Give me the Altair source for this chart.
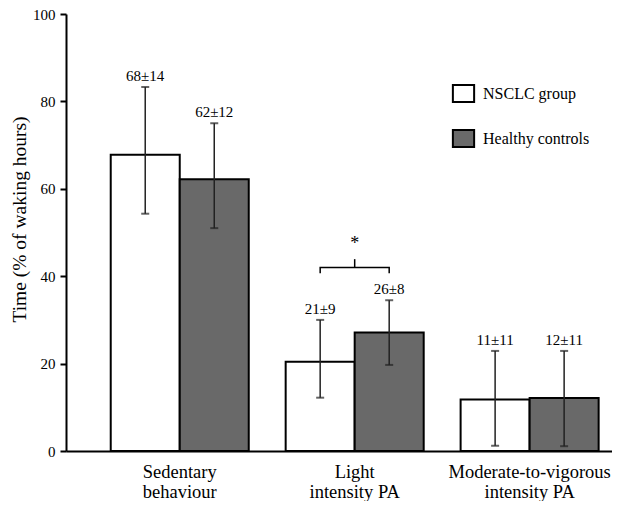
import altair as alt
import pandas as pd

# ---- data ----
categories = ["Sedentary|behaviour", "Light|intensity PA", "Moderate-to-vigorous|intensity PA"]
groups = ["NSCLC group", "Healthy controls"]
nsclc_mean = [67.8, 20.4, 11.8]
healthy_mean = [62.2, 27.1, 12.1]
nsclc_hi = [83.3, 30.0, 22.9]
healthy_hi = [75.0, 34.5, 22.9]
nsclc_lo = [54.3, 12.2, 1.2]
healthy_lo = [51.0, 19.7, 1.1]
nsclc_label = ["68±14", "21±9", "11±11"]
healthy_label = ["62±12", "26±8", "12±11"]

# significance bracket (Light intensity PA)
bracket_cat = "Light|intensity PA"
bracket_low = 40.7
bracket_high = 42.0
bracket_tip = 43.9
star_y = 46.3

FONT = "Liberation Serif, Times New Roman, serif"

rows = []
for i, c in enumerate(categories):
    rows.append(dict(cat=c, group=groups[0], mean=nsclc_mean[i], lo=nsclc_lo[i], hi=nsclc_hi[i], label=nsclc_label[i]))
    rows.append(dict(cat=c, group=groups[1], mean=healthy_mean[i], lo=healthy_lo[i], hi=healthy_hi[i], label=healthy_label[i]))
df = pd.DataFrame(rows)

bracket_df = pd.DataFrame([
    dict(cat=bracket_cat, group=groups[0], y=bracket_low, o=0),
    dict(cat=bracket_cat, group=groups[0], y=bracket_high, o=1),
    dict(cat=bracket_cat, group=groups[1], y=bracket_high, o=2),
    dict(cat=bracket_cat, group=groups[1], y=bracket_low, o=3),
])
tip_df = pd.DataFrame([dict(cat=bracket_cat, y=bracket_high, y2=bracket_tip, star="*", sy=star_y)])

xscale = alt.Scale(domain=categories, paddingInner=0.211, paddingOuter=0.166, align=0.77)
x = alt.X("cat:N", scale=xscale, sort=categories,
          axis=alt.Axis(title=None, ticks=False, labelAngle=0, labelExpr="split(datum.label, '|')",
                        labelFont=FONT, labelFontSize=18.5, labelColor="black", labelLineHeight=20,
                        labelPadding=11, domainColor="black", domainWidth=2, labelBaseline="top"))
xo = alt.XOffset("group:N", scale=alt.Scale(domain=groups, paddingInner=0, paddingOuter=0), sort=groups)
yscale = alt.Scale(domain=[0, 100], nice=False)

bars = alt.Chart(df).mark_bar(stroke="black", strokeWidth=2).encode(
    x=x, xOffset=xo,
    y=alt.Y("mean:Q", scale=yscale,
            axis=alt.Axis(title="Time (% of waking hours)", values=[0, 20, 40, 60, 80, 100], grid=False,
                          tickSize=6, tickWidth=2, tickColor="black", domainColor="black", domainWidth=2,
                          labelFont=FONT, labelFontSize=15, labelColor="black", labelPadding=5,
                          titleFont=FONT, titleFontSize=19.5, titleFontWeight="normal", titleColor="black",
                          titleX=-47, titleY=205, titleBaseline="middle", titleAngle=-90)),
    color=alt.Color("group:N", sort=groups,
                    scale=alt.Scale(domain=groups, range=["white", "#696969"]),
                    legend=alt.Legend(title=None, orient="none", legendX=388, legendY=70,
                                      symbolType="M-1.25,-1H1.25V1H-1.25Z", symbolSize=289,
                                      symbolStrokeColor="black", symbolStrokeWidth=2,
                                      labelFont=FONT, labelFontSize=16, labelColor="black",
                                      labelOffset=10, rowPadding=20, padding=0)),
)

rules = alt.Chart(df).mark_rule(color="#222222", strokeWidth=1.5).encode(
    x=x, xOffset=xo, y=alt.Y("lo:Q", scale=yscale), y2="hi:Q")
cap_hi = alt.Chart(df).mark_tick(color="#222222", orient="horizontal", size=8, thickness=2).encode(
    x=x, xOffset=xo, y=alt.Y("hi:Q", scale=yscale))
cap_lo = alt.Chart(df).mark_tick(color="#222222", orient="horizontal", size=8, thickness=2).encode(
    x=x, xOffset=xo, y=alt.Y("lo:Q", scale=yscale))
labels = alt.Chart(df).mark_text(font=FONT, fontSize=15, color="black", baseline="alphabetic", dy=-6).encode(
    x=x, xOffset=xo, y=alt.Y("hi:Q", scale=yscale), text="label:N")

bracket = alt.Chart(bracket_df).mark_line(color="black", strokeWidth=1.5).encode(
    x=x, xOffset=xo, y=alt.Y("y:Q", scale=yscale), order="o:Q")
tip = alt.Chart(tip_df).mark_rule(color="black", strokeWidth=1.5).encode(
    x=x, y=alt.Y("y:Q", scale=yscale), y2="y2:Q")
star = alt.Chart(tip_df).mark_text(font=FONT, fontSize=18, color="black", baseline="alphabetic").encode(
    x=x, y=alt.Y("sy:Q", scale=yscale), text="star:N")

chart = alt.layer(bars, rules, cap_hi, cap_lo, labels, bracket, tip, star).properties(
    width=546, height=437,
    autosize=alt.AutoSizeParams(type="none"),
    padding={"left": 58, "top": 6, "right": 0, "bottom": 50},
).configure(background="white", font=FONT).configure_view(stroke=None)

chart.save("out.html", embed_options={"renderer": "svg", "actions": False})
